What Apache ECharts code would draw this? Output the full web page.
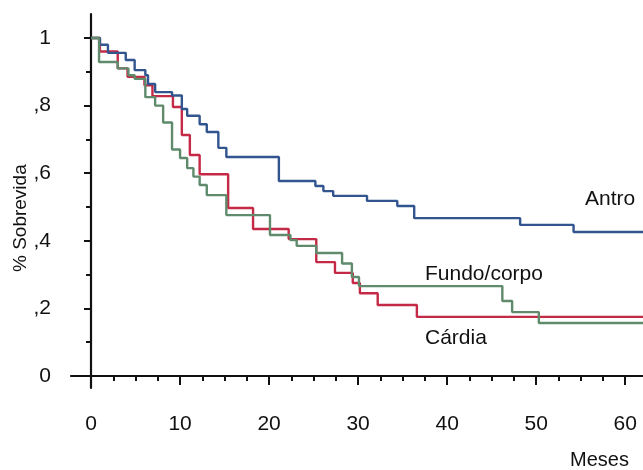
<!DOCTYPE html>
<html>
<head>
<meta charset="utf-8">
<script src="https://cdn.jsdelivr.net/npm/echarts@6/dist/echarts.min.js"></script>
<style>
  html, body { margin: 0; padding: 0; background: #ffffff; }
  #chart { width: 643px; height: 470px; }
</style>
</head>
<body>
<div id="chart"></div>
<script>
// Kaplan-Meier survival by tumour site: time (months) where each step starts, and survival from that time on
const antroTimes = [0, 1.0, 1.9, 3.9, 4.9, 6.1, 6.4, 7.2, 9.1, 10.2, 10.8, 12.2, 13.0, 14.3, 15.2, 21.1, 25.2, 26.1, 27.2, 31.0, 34.4, 36.3, 48.2, 54.2, 62];
const antroSurv  = [1, 0.98, 0.956, 0.935, 0.905, 0.89, 0.864, 0.84, 0.83, 0.79, 0.77, 0.745, 0.722, 0.675, 0.648, 0.577, 0.562, 0.547, 0.533, 0.518, 0.503, 0.467, 0.447, 0.426, 0.426];

const fundoTimes = [0, 0.9, 3.0, 4.2, 4.9, 6.1, 7.2, 8.1, 9.1, 10.0, 10.8, 11.5, 12.2, 13.0, 15.2, 20.1, 22.4, 23.1, 25.3, 28.2, 29.3, 30.1, 46.2, 47.3, 50.3, 62];
const fundoSurv  = [1, 0.929, 0.91, 0.89, 0.879, 0.825, 0.80, 0.75, 0.67, 0.645, 0.615, 0.59, 0.565, 0.535, 0.476, 0.417, 0.402, 0.385, 0.364, 0.333, 0.293, 0.266, 0.222, 0.189, 0.157, 0.157];

const cardiaTimes = [0, 1.0, 3.0, 4.1, 6.0, 6.9, 9.2, 10.2, 11.1, 12.2, 15.4, 18.2, 22.2, 25.3, 27.4, 29.4, 30.2, 32.2, 36.6, 62];
const cardiaSurv  = [1, 0.96, 0.91, 0.885, 0.86, 0.828, 0.796, 0.713, 0.654, 0.597, 0.497, 0.435, 0.405, 0.337, 0.305, 0.275, 0.245, 0.210, 0.175, 0.175];

const xMajor = [0, 10, 20, 30, 40, 50, 60];
const xMinor = [2.5, 5, 7.5, 12.5, 15, 17.5, 22.5, 25, 27.5, 32.5, 35, 37.5, 42.5, 45, 47.5, 52.5, 55, 57.5];
const yMajor = [0, 0.2, 0.4, 0.6, 0.8, 1];
const yMinor = [0.1, 0.3, 0.5, 0.7, 0.9];
const yLabels = ['0', ',2', ',4', ',6', ',8', '1'];

const FONT = '"Liberation Sans", Arial, Helvetica, sans-serif';
const INK = '#111111';

function pairs(ts, ss) { return ts.map((t, i) => [t, ss[i]]); }

const X_MIN = -2.25, X_MAX = 62;
const Y_MIN = -0.0355, Y_MAX = 1.071;

const chart = echarts.init(document.getElementById('chart'), null, { renderer: 'canvas' });

chart.setOption({
  animation: false,
  backgroundColor: '#ffffff',
  grid: { left: 71, right: 0, top: 14, bottom: 82 },
  xAxis: [
    {
      type: 'value', min: X_MIN, max: X_MAX, position: 'bottom',
      axisLine: { show: true, lineStyle: { color: INK, width: 2.2 } },
      axisTick: { show: true, customValues: xMajor, length: 9, lineStyle: { color: INK, width: 2 } },
      axisLabel: { customValues: xMajor, margin: 26, fontSize: 21, color: INK, fontFamily: FONT },
      splitLine: { show: false }
    },
    {
      type: 'value', min: X_MIN, max: X_MAX, position: 'bottom',
      axisLine: { show: false },
      axisTick: { show: true, customValues: xMinor, length: 5, lineStyle: { color: INK, width: 2 } },
      axisLabel: { show: false },
      splitLine: { show: false }
    }
  ],
  yAxis: [
    {
      type: 'value', min: Y_MIN, max: Y_MAX, position: 'left',
      axisLine: { show: true, lineStyle: { color: INK, width: 2.2 } },
      axisTick: { show: true, customValues: yMajor, length: 7, lineStyle: { color: INK, width: 2 } },
      axisLabel: {
        customValues: yMajor, margin: 20, fontSize: 21, color: INK, fontFamily: FONT,
        formatter: v => yLabels[yMajor.findIndex(m => Math.abs(m - v) < 1e-6)]
      },
      splitLine: { show: false }
    },
    {
      type: 'value', min: Y_MIN, max: Y_MAX, position: 'left',
      axisLine: { show: false },
      axisTick: { show: true, customValues: yMinor, length: 5, lineStyle: { color: INK, width: 2 } },
      axisLabel: { show: false },
      splitLine: { show: false }
    }
  ],
  series: [
    {
      name: 'Cárdia', type: 'line', step: 'end', showSymbol: false, z: 2,
      data: pairs(cardiaTimes, cardiaSurv),
      lineStyle: { color: '#c42a45', width: 2.4 }
    },
    {
      name: 'Antro', type: 'line', step: 'end', showSymbol: false, z: 3,
      data: pairs(antroTimes, antroSurv),
      lineStyle: { color: '#33558f', width: 2.4 }
    },
    {
      name: 'Fundo/corpo', type: 'line', step: 'end', showSymbol: false, z: 4,
      data: pairs(fundoTimes, fundoSurv),
      lineStyle: { color: '#5f8a6b', width: 2.4 }
    }
  ],
  graphic: [
    { type: 'text', left: 585, top: 189, style: { text: 'Antro', font: '21px ' + FONT, fill: INK } },
    { type: 'text', left: 425, top: 264, style: { text: 'Fundo/corpo', font: '21px ' + FONT, fill: INK } },
    { type: 'text', left: 425, top: 328, style: { text: 'Cárdia', font: '21px ' + FONT, fill: INK } },
    { type: 'text', left: 570, top: 450, style: { text: 'Meses', font: '20px ' + FONT, fill: INK } },
    {
      type: 'text', x: 11, y: 272, rotation: Math.PI / 2,
      style: { text: '% Sobrevida', font: '19px ' + FONT, fill: INK }
    }
  ]
});
</script>
</body>
</html>
